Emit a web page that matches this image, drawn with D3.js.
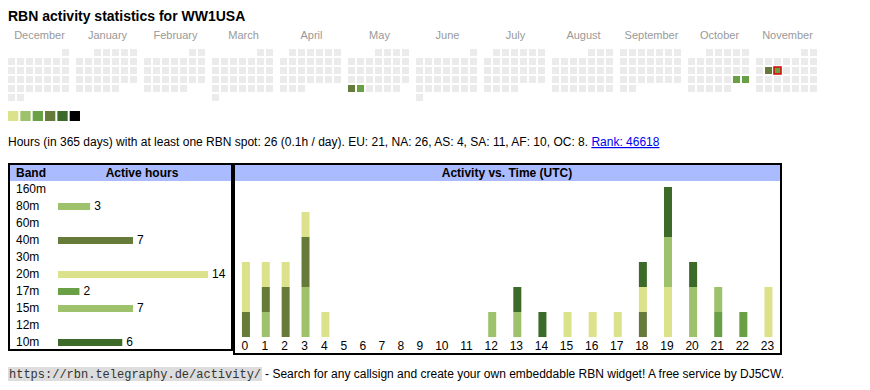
<!DOCTYPE html>
<html lang="en">
<head>
<meta charset="UTF-8">
<title>RBN activity statistics</title>
<style>
  body { margin: 0; background: #fff; }
  svg { display: block; font-family: "Liberation Sans", Arial, sans-serif; }
  .title { font-size: 14px; font-weight: bold; fill: #000; }
  .month { font-size: 11px; fill: #999; text-anchor: middle; }
  .stats { font-size: 12px; fill: #000; }
  .tbl { font-size: 12px; fill: #000; }
  .probe { font-size: 11px; }
  .head { font-size: 12px; font-weight: bold; }
  .mono { font-family: "Liberation Mono", "Courier New", monospace; font-size: 12px; fill: #333; }
  .foot { font-size: 12px; fill: #000; }
</style>
<script src="https://d3js.org/d3.v7.min.js"></script>
</head>
<body>
<script>
// ---- data ----
const months = ["December", "January", "February", "March", "April", "May",
                "June", "July", "August", "September", "October", "November"];
const monthStarts = ["2024-12-01", "2025-01-01", "2025-02-01", "2025-03-01", "2025-04-01", "2025-05-01",
                     "2025-06-01", "2025-07-01", "2025-08-01", "2025-09-01", "2025-10-01", "2025-11-01"];
const activeDays = ["2025-05-26", "2025-05-27", "2025-10-25", "2025-10-26", "2025-11-11", "2025-11-12"];
const activeDayHours = [6, 3, 3, 4, 7, 3];
const today = "2025-11-12";
const levelColors = ["#dbe28b", "#9dc26b", "#69a045", "#667a3a", "#3c6a28", "#000000"];
const levelSteps = [2, 3, 6, 9, 12];

const bands = ["160m", "80m", "60m", "40m", "30m", "20m", "17m", "15m", "12m", "10m"];
const bandHours = [0, 3, 0, 7, 0, 14, 2, 7, 0, 6];
const bandColors = ["#3c6a28", "#9dc26b", "#69a045", "#667a3a", "#3c6a28",
                    "#dbe28b", "#69a045", "#9dc26b", "#667a3a", "#3c6a28"];

const hours = ["0", "1", "2", "3", "4", "5", "6", "7", "8", "9", "10", "11",
               "12", "13", "14", "15", "16", "17", "18", "19", "20", "21", "22", "23"];
//            0  1  2  3  4  5  6  7  8  9 10 11 12 13 14 15 16 17 18 19 20 21 22 23
const h160 = [0, 0, 0, 0, 0, 0, 0, 0, 0, 0, 0, 0, 0, 0, 0, 0, 0, 0, 0, 0, 0, 0, 0, 0];
const h80  = [0, 1, 0, 2, 0, 0, 0, 0, 0, 0, 0, 0, 0, 0, 0, 0, 0, 0, 0, 0, 0, 0, 0, 0];
const h60  = [0, 0, 0, 0, 0, 0, 0, 0, 0, 0, 0, 0, 0, 0, 0, 0, 0, 0, 0, 0, 0, 0, 0, 0];
const h40  = [1, 1, 2, 2, 0, 0, 0, 0, 0, 0, 0, 0, 0, 0, 0, 0, 0, 0, 1, 0, 0, 0, 0, 0];
const h30  = [0, 0, 0, 0, 0, 0, 0, 0, 0, 0, 0, 0, 0, 0, 0, 0, 0, 0, 0, 0, 0, 0, 0, 0];
const h20  = [2, 1, 1, 1, 1, 0, 0, 0, 0, 0, 0, 0, 0, 0, 0, 1, 1, 1, 1, 2, 0, 0, 0, 2];
const h17  = [0, 0, 0, 0, 0, 0, 0, 0, 0, 0, 0, 0, 0, 0, 0, 0, 0, 0, 0, 0, 0, 1, 1, 0];
const h15  = [0, 0, 0, 0, 0, 0, 0, 0, 0, 0, 0, 0, 1, 1, 0, 0, 0, 0, 0, 2, 2, 1, 0, 0];
const h12  = [0, 0, 0, 0, 0, 0, 0, 0, 0, 0, 0, 0, 0, 0, 0, 0, 0, 0, 0, 0, 0, 0, 0, 0];
const h10  = [0, 0, 0, 0, 0, 0, 0, 0, 0, 0, 0, 0, 0, 1, 1, 0, 0, 0, 1, 2, 1, 0, 0, 0];
const bandSeries = [h160, h80, h60, h40, h30, h20, h17, h15, h12, h10];

const W = 870, H = 390;
const svg = d3.select("body").append("svg").attr("width", W).attr("height", H);

svg.append("text").attr("class", "title").attr("x", 8).attr("y", 21)
   .text("RBN activity statistics for WW1USA");

// ---- calendar heatmap ----
const parse = d3.timeParse("%Y-%m-%d");
const fmt = d3.timeFormat("%Y-%m-%d");
const dayVal = new Map(activeDays.map((d, i) => [d, activeDayHours[i]]));
const levelColor = d3.scaleThreshold().domain(levelSteps).range(levelColors);

const xMonth = d3.scaleBand().domain(months).range([8, 819]).paddingInner(5 / 68);
const cell = 9, cellSize = 7, calTop = 49;

months.forEach((m, i) => {
  const start = parse(monthStarts[i]);
  const end = d3.timeMonth.offset(start, 1);
  const firstWd = (start.getDay() + 6) % 7;
  const x0 = xMonth(m);
  svg.append("text").attr("class", "month")
     .attr("x", x0 + xMonth.bandwidth() / 2).attr("y", 39).text(m);
  const days = d3.timeDays(start, end);
  const g = svg.append("g");
  g.selectAll("rect").data(days).join("rect")
    .attr("x", d => x0 + ((d.getDay() + 6) % 7) * cell)
    .attr("y", d => calTop + Math.floor((d.getDate() - 1 + firstWd) / 7) * cell)
    .attr("width", cellSize).attr("height", cellSize)
    .attr("fill", d => dayVal.has(fmt(d)) ? levelColor(dayVal.get(fmt(d))) : "#ebebeb")
    .attr("stroke", d => fmt(d) === today ? "#e00000" : "none")
    .attr("stroke-width", 1.5);
});

// legend
const xLegend = d3.scaleBand().domain(d3.range(levelColors.length)).range([8, 8 + 12 * levelColors.length]).paddingInner(2 / 12);
svg.selectAll(".leg").data(levelColors).join("rect").attr("class", "leg")
   .attr("x", (d, i) => xLegend(i)).attr("y", 111)
   .attr("width", xLegend.bandwidth()).attr("height", 10)
   .attr("fill", d => d);

// ---- stats line ----
const hoursTotal = 26;
const stats = svg.append("text").attr("class", "stats").attr("x", 8).attr("y", 146);
stats.append("tspan").text("Hours (in 365 days) with at least one RBN spot: " + hoursTotal +
  " (0.1h / day). EU: 21, NA: 26, AS: 4, SA: 11, AF: 10, OC: 8. ");
stats.append("tspan").attr("fill", "#0000ee").style("text-decoration", "underline").text("Rank: 46618");

// ---- band table ----
const headH = 16;
svg.append("rect").attr("x", 10).attr("y", 165).attr("width", 221).attr("height", headH).attr("fill", "#aabbff");
svg.append("rect").attr("x", 9).attr("y", 164).attr("width", 223).attr("height", 186)
   .attr("fill", "none").attr("stroke", "#000").attr("stroke-width", 2);
svg.append("text").attr("class", "head").attr("x", 16).attr("y", 177).text("Band");
svg.append("text").attr("class", "head").attr("x", 142).attr("y", 177).attr("text-anchor", "middle").text("Active hours");

const yBand = d3.scaleBand().domain(bands).range([181, 351]);
const xBar = d3.scaleLinear().domain([0, d3.max(bandHours)]).range([0, 150]);
const bandRows = bands.map((b, i) => ({ band: b, v: bandHours[i], c: bandColors[i] }));

svg.selectAll(".blab").data(bandRows).join("text").attr("class", "tbl blab")
   .attr("x", 16).attr("y", d => yBand(d.band) + 12).text(d => d.band);
svg.selectAll(".bbar").data(bandRows.filter(d => d.v > 0)).join("rect").attr("class", "bbar")
   .attr("x", 58).attr("y", d => yBand(d.band) + 5)
   .attr("width", d => xBar(d.v)).attr("height", 7).attr("fill", d => d.c);
svg.selectAll(".bval").data(bandRows.filter(d => d.v > 0)).join("text").attr("class", "tbl bval")
   .attr("x", d => 58 + xBar(d.v) + 4).attr("y", d => yBand(d.band) + 12).text(d => d.v);

// ---- activity vs time ----
svg.append("rect").attr("x", 235).attr("y", 165).attr("width", 545).attr("height", headH).attr("fill", "#aabbff");
svg.append("rect").attr("x", 234).attr("y", 164).attr("width", 547).attr("height", 190)
   .attr("fill", "none").attr("stroke", "#000").attr("stroke-width", 2);
svg.append("text").attr("class", "head").attr("x", 507).attr("y", 177).attr("text-anchor", "middle")
   .text("Activity vs. Time (UTC)");

const table = hours.map((h, i) => {
  const row = { hour: h };
  bands.forEach((b, j) => row[b] = bandSeries[j][i]);
  return row;
});
const stacked = d3.stack().keys(bands)(table);
const totals = table.map(r => d3.sum(bands, b => r[b]));

// column widths like an auto-layout table: content width + equal share of the rest
const innerL = 235, innerW = 545, barW = 8;
const probe = svg.append("g");
const labelW = hours.map(h => probe.append("text").attr("class", "probe").text(h).node().getComputedTextLength());
probe.remove();
const content = hours.map((h, i) => Math.max(totals[i] > 0 ? 7 : 0, labelW[i]));
const extra = (innerW - d3.sum(content)) / hours.length;
let acc = innerL;
const centers = content.map(c => { const w = c + extra; const m = acc + w / 2; acc += w; return m; });
const xHour = d3.scaleOrdinal().domain(hours).range(centers);
const yAct = d3.scaleLinear().domain([0, d3.max(totals)]).range([337, 187]);

const colorOf = d3.scaleOrdinal().domain(bands).range(bandColors);
svg.append("g").selectAll("g").data(stacked).join("g")
   .attr("fill", d => colorOf(d.key))
   .selectAll("rect").data(d => d.filter(p => p[1] > p[0])).join("rect")
   .attr("x", d => xHour(d.data.hour) - barW / 2 + 1)
   .attr("y", d => yAct(d[1]))
   .attr("width", barW)
   .attr("height", d => yAct(d[0]) - yAct(d[1]));

svg.selectAll(".hlab").data(hours).join("text").attr("class", "tbl hlab")
   .attr("x", d => xHour(d)).attr("y", 350).attr("text-anchor", "middle").text(d => d);

// ---- footer ----
const url = svg.append("text").attr("class", "mono").attr("x", 9).attr("y", 378)
   .text("https://rbn.telegraphy.de/activity/");
const ub = url.node().getBBox();
svg.insert("rect", ".mono").attr("x", 8).attr("y", 367).attr("width", ub.width + 2).attr("height", 14).attr("fill", "#dddddd");
svg.append("text").attr("class", "foot").attr("x", 8 + ub.width + 5).attr("y", 378)
   .text("- Search for any callsign and create your own embeddable RBN widget! A free service by DJ5CW.");
</script>
</body>
</html>
